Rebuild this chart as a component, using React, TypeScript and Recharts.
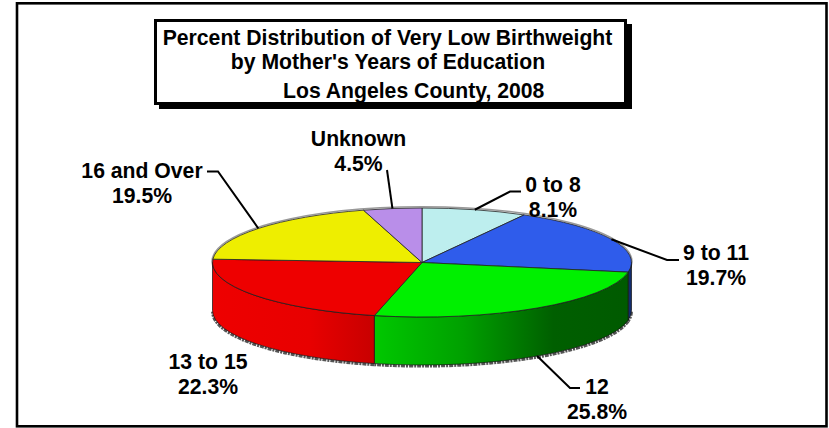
import { Pie, PieChart } from "recharts";

const categories = ["0 to 8", "9 to 11", "12", "13 to 15", "16 and Over", "Unknown"];
const percents = [8.1, 19.7, 25.8, 22.3, 19.5, 4.5];
const topColors = ["#bdeeee", "#2f5ceb", "#00f000", "#ee0000", "#eeee00", "#b98ee9"];
const wallColors = ["#8fc4c4", "#122c6c", "url(#wallGreen)", "url(#wallRed)", "#b0b000", "#8a66b0"];
const titleLines = [
  "Percent Distribution of Very Low Birthweight",
  "by Mother's Years of Education",
  "Los Angeles County, 2008",
];

const data = categories.map((name, i) => ({ name, value: percents[i] }));

const CX = 422;
const CY = 262.5;
const RX = 209.5;
const RY = 54.5;
const DEPTH = 48;
const FONT = "'Liberation Sans', Arial, sans-serif";
const FONT_SIZE = 21.2;

// where each label sits, and the elbow its leader runs through (none for 13 to 15)
const labelSpots = [
  { x: 553, y: 192, leader: [[510, 191.5], [521, 191.5]] },
  { x: 716, y: 260, leader: [[667, 260], [679, 260]] },
  { x: 597, y: 394, leader: [[570, 388], [580, 388]] },
  { x: 208, y: 369, leader: null },
  { x: 142, y: 178, leader: [[218, 171.5], [207, 171.5]] },
  { x: 358.5, y: 146, leader: [[387, 170]] },
];

const edgePoint = (deg: number, dy = 0) => {
  const a = (deg * Math.PI) / 180;
  return { x: CX + RX * Math.cos(a), y: CY - RY * Math.sin(a) + dy };
};

function TopSlice({ startAngle, endAngle, fill }: any) {
  const p0 = edgePoint(startAngle);
  const p1 = edgePoint(endAngle);
  const large = Math.abs(startAngle - endAngle) > 180 ? 1 : 0;
  return (
    <path
      d={`M${CX},${CY} L${p0.x},${p0.y} A${RX},${RY} 0 ${large} 1 ${p1.x},${p1.y} Z`}
      fill={fill}
      stroke="#222"
      strokeWidth={0.8}
    />
  );
}

function WallSlice({ startAngle, endAngle, index }: any) {
  // only the front half of the rim shows
  const hi = Math.min(startAngle, 0);
  const lo = Math.max(endAngle, -180);
  if (hi <= lo) return null;
  const a = edgePoint(hi);
  const b = edgePoint(lo);
  const c = edgePoint(lo, DEPTH);
  const d = edgePoint(hi, DEPTH);
  return (
    <g>
      <path
        d={`M${d.x},${d.y + 1.2} A${RX},${RY} 0 0 1 ${c.x},${c.y + 1.2}`}
        fill="none"
        stroke="#555"
        strokeWidth={2.8}
        strokeDasharray="4 1 2 1"
      />
      <path
        d={`M${a.x},${a.y} A${RX},${RY} 0 0 1 ${b.x},${b.y} L${c.x},${c.y} A${RX},${RY} 0 0 0 ${d.x},${d.y} Z`}
        fill={wallColors[index]}
        stroke="#111"
        strokeWidth={0.7}
      />
    </g>
  );
}

function SliceLabel({ midAngle, index }: any) {
  const spot = labelSpots[index];
  let leader = null;
  if (spot.leader) {
    const s = Math.sin((midAngle * Math.PI) / 180);
    const from = edgePoint(midAngle, s < 0 ? DEPTH : 0);
    const pts = [[from.x, from.y], ...spot.leader].map((p) => p.join(",")).join(" ");
    leader = <polyline points={pts} fill="none" stroke="#000" strokeWidth={2} />;
  }
  return (
    <g>
      {leader}
      <text
        x={spot.x}
        y={spot.y}
        textAnchor="middle"
        fontFamily={FONT}
        fontWeight="bold"
        fontSize={FONT_SIZE}
        fill="#000"
      >
        {categories[index]}
      </text>
      <text
        x={spot.x}
        y={spot.y + 24.5}
        textAnchor="middle"
        fontFamily={FONT}
        fontWeight="bold"
        fontSize={FONT_SIZE}
        fill="#000"
      >
        {percents[index].toFixed(1)}%
      </text>
    </g>
  );
}

export default function App() {
  return (
    <div style={{ position: "absolute", left: 0, top: 0, width: 829, height: 428 }}>
      <PieChart width={829} height={428} margin={{ top: 0, right: 0, bottom: 0, left: 0 }}>
        <defs>
          <linearGradient id="wallGreen" gradientUnits="userSpaceOnUse" x1={374} y1={0} x2={630} y2={0}>
            <stop offset="0" stopColor="#00c800" />
            <stop offset="0.35" stopColor="#00a000" />
            <stop offset="0.7" stopColor="#005f00" />
            <stop offset="1" stopColor="#005a00" />
          </linearGradient>
          <linearGradient id="wallRed" gradientUnits="userSpaceOnUse" x1={213} y1={0} x2={374} y2={0}>
            <stop offset="0" stopColor="#ee0000" />
            <stop offset="0.6" stopColor="#e80000" />
            <stop offset="1" stopColor="#c80000" />
          </linearGradient>
        </defs>
        <rect x={17} y={3.3} width={809.5} height={423} fill="#fff" stroke="#000" strokeWidth={2.6} />
        <rect x={159} y={24} width={473} height={85} fill="#000" />
        <rect x={155.5} y={20.5} width={470} height={83} fill="#fff" stroke="#000" strokeWidth={3} />
        <text x={387.5} y={45} textAnchor="middle" fontFamily={FONT} fontWeight="bold" fontSize={FONT_SIZE} fill="#000">
          {titleLines[0]}
        </text>
        <text x={388} y={69} textAnchor="middle" fontFamily={FONT} fontWeight="bold" fontSize={FONT_SIZE} fill="#000">
          {titleLines[1]}
        </text>
        <text x={283} y={97.5} fontFamily={FONT} fontWeight="bold" fontSize={FONT_SIZE} fill="#000">
          {titleLines[2]}
        </text>
        <ellipse cx={CX} cy={CY - 0.8} rx={RX + 0.5} ry={RY + 0.5} fill="none" stroke="#999" strokeWidth={1.5} />
        <Pie
          data={data}
          dataKey="value"
          nameKey="name"
          cx={CX}
          cy={CY}
          outerRadius={RX}
          startAngle={90}
          endAngle={-270}
          stroke="none"
          label={false}
          labelLine={false}
          shape={(props: any) => <WallSlice {...props} />}
          isAnimationActive={false}
        />
        <Pie
          data={data.map((d, i) => ({ ...d, fill: topColors[i] }))}
          dataKey="value"
          nameKey="name"
          cx={CX}
          cy={CY}
          outerRadius={RX}
          startAngle={90}
          endAngle={-270}
          label={(props: any) => <SliceLabel {...props} />}
          labelLine={false}
          shape={(props: any) => <TopSlice {...props} />}
          isAnimationActive={false}
        />
      </PieChart>
    </div>
  );
}
